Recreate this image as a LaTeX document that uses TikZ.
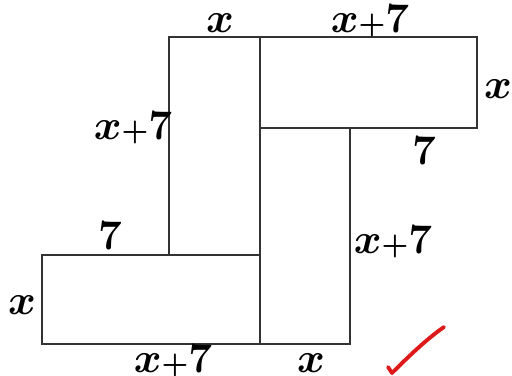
\documentclass[tikz,border=0pt]{standalone}
\newcommand{\xplus}{$x{\scriptstyle+}7$}
\begin{document}
\begin{tikzpicture}[x=0.01cm, y=-0.01cm,
  side/.style={font=\large\boldmath, inner sep=0pt},
  piece/.style={draw=black!80, line width=0.6pt}]
  \useasboundingbox (0,0) rectangle (512,376);
  % the four rectangles
  \draw[piece] (169,37) rectangle (260,255);
  \draw[piece] (260,37) rectangle (477,128);
  \draw[piece] (260,128) rectangle (350,344);
  \draw[piece] (42,255) rectangle (260,344);
  % side lengths
  \node[side] (topx) at (220,23) {$x$};
  \node[side] (topxs) at (370,21) {\xplus};
  \node[side] (rightx) at (498,89) {$x$};
  \node[side] (rightseven) at (424,151) {$7$};
  \node[side] (leftxs) at (133,128) {\xplus};
  \node[side] (midxs) at (393,242) {\xplus};
  \node[side] (leftseven) at (110,236) {$7$};
  \node[side] (leftx) at (22,305) {$x$};
  \node[side] (botxs) at (173,361) {\xplus};
  \node[side] (botx) at (311,363) {$x$};
  % tick
  \draw[red!85!black!90!white, line width=1.1pt, line cap=round, line join=round]
    (388,367) -- (392,373) .. controls (410,355) and (428,338) .. (444,327);
\end{tikzpicture}
\end{document}
